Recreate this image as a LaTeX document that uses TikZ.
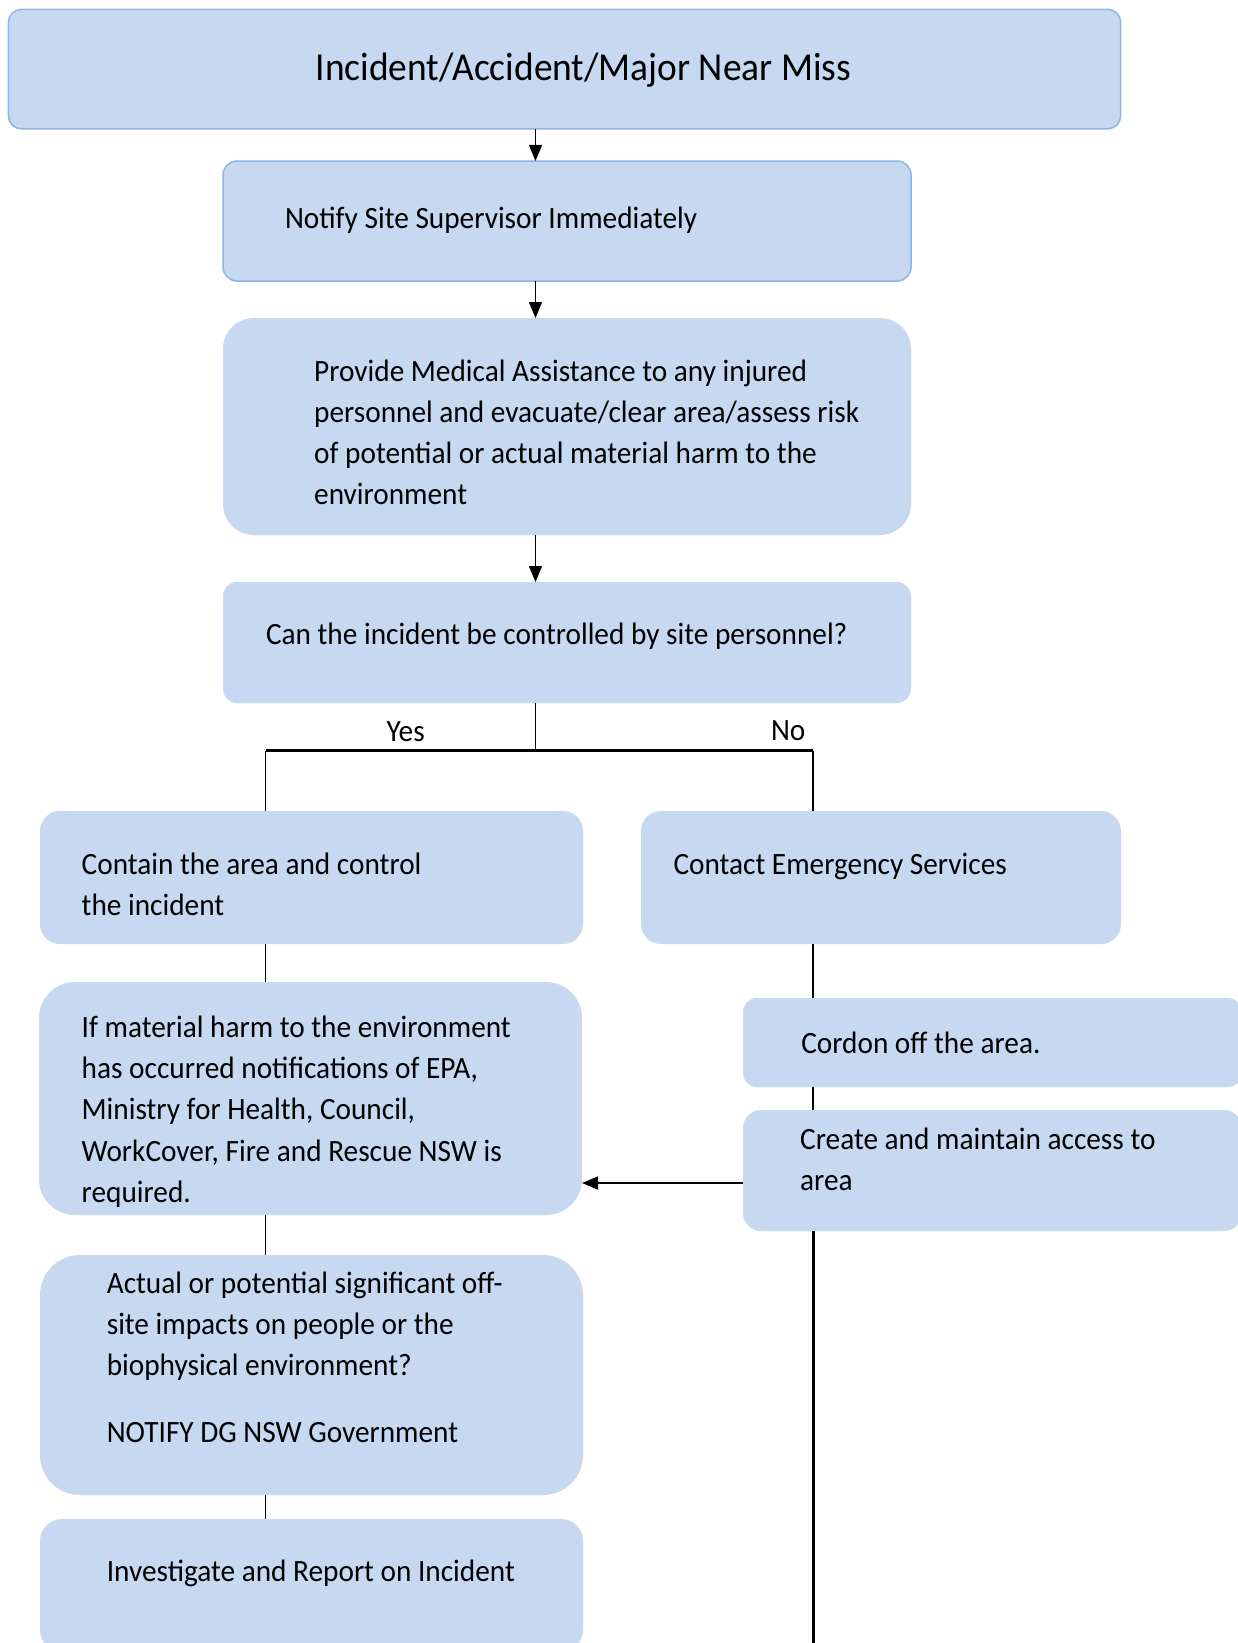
\documentclass[tikz,border=0pt]{standalone}
\usepackage{fontspec}
\setmainfont{Carlito}[FakeStretch=0.945]
\usetikzlibrary{arrows.meta,fit}
\definecolor{boxfill}{RGB}{198,217,241}
\definecolor{boxline}{RGB}{142,180,227}

\begin{document}
\begin{tikzpicture}[x=0.5pt,y=-0.5pt,
  box/.style={fill=boxfill, inner sep=0pt, outer sep=0pt},
  framed/.style={box, draw=boxline, line width=0.75pt},
  txt/.style={inner sep=0pt, outer sep=0pt, align=left, anchor=base west,
              font=\fontsize{15.5}{20.6}\selectfont},
  link/.style={line width=0.7pt},
  flow/.style={link, -{Triangle[length=8pt,width=6.5pt]}},
]
\fill[white] (0,0) rectangle (1237,1643);
\useasboundingbox (0,0) rectangle (1237,1643);

% process boxes
\node[framed, rounded corners=6.5pt, fit={(8.4,9.4)(1120.7,128.8)}] (incident) {};
\node[framed, rounded corners=7pt, fit={(223,161)(911,281)}] (notify) {};
\node[box, rounded corners=15.5pt, fit={(223,318)(911,535)}] (medical) {};
\node[box, rounded corners=7pt, fit={(223,582)(911,703)}] (control) {};
\node[box, rounded corners=10pt, fit={(40,811)(583,944)}] (contain) {};
\node[box, rounded corners=10pt, fit={(641,811)(1121,944)}] (emergency) {};
\node[box, rounded corners=18pt, fit={(39,982)(582,1215)}] (harm) {};
\node[box, rounded corners=7pt, fit={(743,998)(1242,1087)}] (cordon) {};
\node[box, rounded corners=9pt, fit={(743,1110)(1242,1231)}] (access) {};
\node[box, rounded corners=20pt, fit={(40,1255)(583,1495)}] (offsite) {};
\node[box, rounded corners=11pt, fit={(40,1519)(583,1652)}] (investigate) {};

% box texts (multi-line texts are placed by the baseline of their last line)
\node[txt, anchor=base, font=\fontsize{19.8}{24}\selectfont] (incident-t) at (583.4,81)
  {Incident/Accident/Major Near Miss};
\node[txt] (notify-t) at (285,228) {Notify Site Supervisor Immediately};
\node[txt] (medical-t) at (314.2,504.6)
  {Provide Medical Assistance to any injured\\personnel and evacuate/clear area/assess risk\\of potential or actual material harm to the\\environment};
\node[txt] (control-t) at (266,644.7) {Can the incident be controlled by site personnel?};
\node[txt] (contain-t) at (81.7,915.2) {Contain the area and control\\the incident};
\node[txt] (emergency-t) at (673.5,874) {Contact Emergency Services};
\node[txt] (harm-t) at (81.7,1202.3)
  {If material harm to the environment\\has occurred notifications of EPA,\\Ministry for Health, Council,\\WorkCover, Fire and Rescue NSW is\\required.};
\node[txt] (cordon-t) at (801.3,1053) {Cordon off the area.};
\node[txt] (access-t) at (800.2,1190.8) {Create and maintain access to\\area};
\node[txt] (offsite-t) at (106.8,1442.8)
  {Actual or potential significant off-\\site impacts on people or the\\biophysical environment?\\[12.9pt]NOTIFY DG NSW Government};
\node[txt] (investigate-t) at (106.8,1581) {Investigate and Report on Incident};

% branch labels
\node[txt] (yes-label) at (386.5,741) {Yes};
\node[txt] (no-label) at (771,740) {No};

% connector guides
\coordinate (spine) at (535.5,0);
\coordinate (yes) at (265.5,0);
\coordinate (no) at (813,0);
\coordinate (fork) at (535.5,750.5);
\coordinate (feed) at (0,1183);
\coordinate (tail) at (813,1643);

% connectors
\draw[flow] (incident.south -| spine) -- (notify.north -| spine);
\draw[flow] (notify.south -| spine) -- (medical.north -| spine);
\draw[flow] (medical.south -| spine) -- (control.north -| spine);
\draw[link] (control.south -| spine) -- (fork);
\draw[link, line width=1.05pt] (fork -| yes) -- (fork -| no);
\draw[link] (fork -| yes) -- (contain.north -| yes);
\draw[link] (fork -| no) -- (emergency.north -| no);
\draw[link] (contain.south -| yes) -- (harm.north -| yes);
\draw[link] (harm.south -| yes) -- (offsite.north -| yes);
\draw[link] (offsite.south -| yes) -- (investigate.north -| yes);
\draw[link] (emergency.south -| no) -- (cordon.north -| no);
\draw[link] (cordon.south -| no) -- (access.north -| no);
\draw[flow, line width=0.9pt] (access.west |- feed) -- (harm.east |- feed);
\draw[link, line width=1.5pt] (access.south -| no) -- (tail);
\end{tikzpicture}
\end{document}
